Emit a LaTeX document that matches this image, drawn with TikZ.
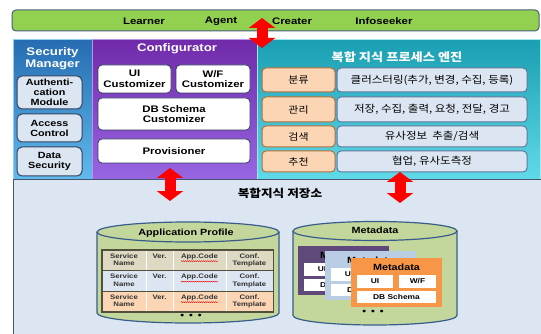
\documentclass[tikz,border=0pt]{standalone}
\usepackage{fontspec}
\setmainfont{Liberation Sans}[FakeStretch=1.2]
\newfontfamily\krfont{Noto Sans CJK KR}[FakeStretch=1.15]
\usetikzlibrary{arrows.meta, decorations.pathmorphing}

\definecolor{barGreen}{RGB}{146,208,80}
\definecolor{barEdge}{RGB}{70,95,125}
\definecolor{secTop}{RGB}{38,108,178}
\definecolor{secBot}{RGB}{96,186,236}
\definecolor{cfgTop}{RGB}{112,42,170}
\definecolor{cfgBot}{RGB}{152,102,226}
\definecolor{engTop}{RGB}{26,158,178}
\definecolor{engBot}{RGB}{96,218,232}
\definecolor{paleBlue}{RGB}{220,230,242}
\definecolor{boxEdge}{RGB}{50,65,95}
\definecolor{tagFill}{RGB}{252,213,181}
\definecolor{tagEdge}{RGB}{180,110,55}
\definecolor{funcEdge}{RGB}{95,120,155}
\definecolor{repoEdge}{RGB}{70,85,110}
\definecolor{cylFill}{RGB}{195,214,155}
\definecolor{cylEdge}{RGB}{56,93,138}
\definecolor{rowA}{RGB}{221,217,195}
\definecolor{rowB}{RGB}{220,230,242}
\definecolor{rowC}{RGB}{252,213,181}
\definecolor{tblEdge}{RGB}{80,80,60}
\definecolor{metaA}{RGB}{95,73,122}
\definecolor{metaB}{RGB}{185,205,229}
\definecolor{metaC}{RGB}{247,150,70}

\begin{document}
\begin{tikzpicture}[
    x=1pt, y=-1pt,
    bar/.style={
        draw=barEdge,
        fill=barGreen,
        line width=1pt,
        rounded corners=4pt,
        inner sep=0pt,
        minimum width=527pt,
        minimum height=21pt
    },
    user/.style={
        font=\bfseries\fontsize{9.5}{11}\selectfont
    },
    panel/.style={
        anchor=north west,
        inner sep=0pt,
        line width=0.8pt,
        minimum height=140pt
    },
    title/.style={
        text=white,
        align=center,
        font=\bfseries\fontsize{11}{12}\selectfont
    },
    secbox/.style={
        draw=boxEdge,
        fill=paleBlue,
        line width=1pt,
        rounded corners=5pt,
        inner sep=0pt,
        minimum width=65pt,
        align=center,
        font=\bfseries\fontsize{9}{10}\selectfont
    },
    cfgbox/.style={
        draw=boxEdge,
        fill=white,
        line width=0.8pt,
        rounded corners=4pt,
        inner sep=0pt,
        align=center,
        font=\bfseries\fontsize{9.5}{10.5}\selectfont
    },
    tag/.style={
        draw=tagEdge,
        fill=tagFill,
        line width=1pt,
        rounded corners=4pt,
        inner sep=0pt,
        minimum width=73pt,
        font=\krfont\fontsize{9.5}{11}\selectfont
    },
    func/.style={
        draw=funcEdge,
        fill=paleBlue,
        line width=1pt,
        rounded corners=4pt,
        inner sep=0pt,
        minimum width=190pt,
        font=\krfont\fontsize{10}{11}\selectfont
    },
    store/.style={
        draw=cylEdge,
        fill=cylFill,
        line width=1.2pt
    },
    storetitle/.style={
        font=\bfseries\fontsize{9}{10}\selectfont
    },
    row/.style={
        anchor=north west,
        inner sep=0pt,
        minimum width=171pt,
        minimum height=20.5pt
    },
    cell/.style={
        anchor=north,
        inner sep=0pt,
        align=center,
        text=black!80,
        font=\bfseries\fontsize{6.5}{7.2}\selectfont
    },
    spell/.style={
        red,
        line width=0.4pt,
        decorate,
        decoration={snake, amplitude=0.5pt, segment length=2pt}
    },
    card/.style={
        anchor=north west,
        inner sep=0pt,
        minimum width=91pt,
        minimum height=49pt
    },
    cardbox/.style={
        fill=white,
        inner sep=0pt,
        font=\bfseries\fontsize{7}{8}\selectfont
    },
    dots/.style={
        font=\bfseries\fontsize{9}{10}\selectfont
    },
    bigarrow/.style={
        red,
        line width=11pt,
        {Triangle[width=26pt,length=10pt]}-{Triangle[width=26pt,length=10pt]}
    }
]

    \useasboundingbox (0,0) rectangle (541,334);

    % ==========================================
    % USERS BAR
    % ==========================================

    \node[bar] (UserBar) at (275.5,20.5) {};
    \node[user] (Learner) at (144,21) {Learner};
    \node[user] (Agent) at (221,21) {Agent};
    \node[user] (Creater) at (292,21) {Creater};
    \node[user] (Infoseeker) at (384,21) {Infoseeker};

    % ==========================================
    % UPPER PANELS
    % ==========================================

    % Security Manager
    \node[panel, draw=secBot!70!white, top color=secTop, bottom color=secBot, minimum width=79pt] (SecurityMgr) at (13,39) {};
    \node[title] (SecTitle) at (52.5,58.5) {Security\\Manager};
    \node[secbox, minimum height=33pt] (AuthModule) at (49.5,92.5) {Authenti-\\cation\\Module};
    \node[secbox, minimum height=28pt] (AccessCtrl) at (49.5,128) {Access\\Control};
    \node[secbox, minimum height=29pt] (DataSec) at (49.5,161.5) {Data\\Security};

    % Configurator
    \node[panel, draw=cfgBot!70!white, top color=cfgTop, bottom color=cfgBot, minimum width=165pt] (Configurator) at (92,39) {};
    \node[title] (CfgTitle) at (177,48.5) {Configurator};
    \node[cfgbox, minimum width=73pt, minimum height=28pt] (UICust) at (134.5,79) {UI\\Customizer};
    \node[cfgbox, minimum width=74pt, minimum height=28pt] (WFCust) at (213,79) {W/F\\Customizer};
    \node[cfgbox, minimum width=152pt, minimum height=32pt] (DBCust) at (174,114) {DB Schema\\Customizer};
    \node[cfgbox, minimum width=152pt, minimum height=24pt] (Provisioner) at (174,151) {Provisioner};

    % Process engine
    \node[panel, draw=engBot!60!white, top color=engTop, bottom color=engBot, minimum width=283pt] (Engine) at (257,39) {};
    \node[title, font=\krfont\bfseries\fontsize{11.5}{13}\selectfont] (EngTitle) at (397,57) {복합 지식 프로세스 엔진};

    \node[tag, minimum height=24pt] (ClassifyTag) at (298.5,80) {분류};
    \node[func, minimum height=24pt] (ClassifyFn) at (432,80) {클러스터링(추가, 변경, 수집, 등록)};
    \node[tag, minimum height=25pt] (ManageTag) at (298.5,109.5) {관리};
    \node[func, minimum height=25pt] (ManageFn) at (432,109.5) {저장, 수집, 출력, 요청, 전달, 경고};
    \node[tag, minimum height=21pt] (SearchTag) at (298.5,136.5) {검색};
    \node[func, minimum height=21pt] (SearchFn) at (432,136.5) {유사정보~ 추출/검색};
    \node[tag, minimum height=21pt] (RecommTag) at (298.5,161.5) {추천};
    \node[func, minimum height=21pt] (RecommFn) at (432,161.5) {협업, 유사도측정};

    % ==========================================
    % REPOSITORY
    % ==========================================

    \node[panel, draw=repoEdge, fill=paleBlue, line width=1.2pt, minimum width=535pt, minimum height=160pt] (Repository) at (13,179) {};
    \node[font=\krfont\bfseries\fontsize{11}{13}\selectfont] (RepoTitle) at (280,193) {복합지식 저장소};

    % Application Profile store
    \draw[store] (97,232) -- (97,313) arc[start angle=180, end angle=360, x radius=91pt, y radius=10pt] -- (279,232);
    \draw[store] (188,232) ellipse [x radius=91pt, y radius=10pt];
    \node[storetitle] (ApTitle) at (186,233) {Application Profile};

    \foreach \nm/\yt/\cc in {A/250/rowA, B/270.5/rowB, C/291/rowC} {
        \node[row, fill=\cc] (Row\nm) at (102,\yt) {};
        \node[cell] (Svc\nm) at (124,{\yt+3.5}) {Service\\Name};
        \node[cell] (Ver\nm) at (159.5,{\yt+3.5}) {Ver.};
        \node[cell] (Code\nm) at (199.5,{\yt+3.5}) {App.Code};
        \node[cell] (Tpl\nm) at (249.5,{\yt+3.5}) {Conf.\\Template};
        \draw[spell] ([yshift=-1.2pt]Code\nm.south west) -- ([yshift=-1.2pt]Code\nm.south east);
        \draw[white, line width=0.8pt] (146,\yt) -- (146,{\yt+20.5}) (173,\yt) -- (173,{\yt+20.5}) (226,\yt) -- (226,{\yt+20.5});
    }
    \draw[tblEdge, line width=1pt] (RowA.south west) -- (RowA.south east) (RowB.south west) -- (RowB.south east);
    \draw[tblEdge, line width=1.2pt] (RowA.north west) rectangle (RowC.south east);
    \node[dots] (ApDots) at (191,316.5) {\textbullet\hspace{5pt}\textbullet\hspace{5pt}\textbullet};

    % Metadata store
    \draw[store] (293,231) -- (293,315.5) arc[start angle=180, end angle=360, x radius=82pt, y radius=9.5pt] -- (457,231);
    \draw[store] (375,231) ellipse [x radius=82pt, y radius=9.5pt];
    \node[storetitle] (MetaTitle) at (375,230.5) {Metadata};

    \foreach \nm/\cx/\cy/\cc in {A/298/246/metaA, B/325/251/metaB, C/351/258/metaC} {
        \node[card, fill=\cc] (Card\nm) at (\cx,\cy) {};
        \node[storetitle] (CardTitle\nm) at ({\cx+45.5},{\cy+9}) {Metadata};
        \node[cardbox, minimum width=36pt, minimum height=13pt] (CardUI\nm) at ({\cx+24},{\cy+23.5}) {UI};
        \node[cardbox, minimum width=37pt, minimum height=13pt] (CardWF\nm) at ({\cx+66.5},{\cy+23.5}) {W/F};
        \node[cardbox, minimum width=79pt, minimum height=12pt] (CardDB\nm) at ({\cx+45.5},{\cy+39}) {DB Schema};
    }
    \node[dots] (MetaDots) at (373,312.5) {\textbullet\hspace{5pt}\textbullet\hspace{5pt}\textbullet};

    % ==========================================
    % DATA FLOW ARROWS
    % ==========================================

    \coordinate (UpTop) at (262,18);
    \coordinate (UpBottom) at (262,48);
    \coordinate (LeftTop) at (170,168);
    \coordinate (LeftBottom) at (170,201);
    \coordinate (RightTop) at (400,172);
    \coordinate (RightBottom) at (400,203);

    \draw[bigarrow] (UpTop) -- (UpBottom);
    \draw[bigarrow] (LeftTop) -- (LeftBottom);
    \draw[bigarrow] (RightTop) -- (RightBottom);

\end{tikzpicture}
\end{document}
